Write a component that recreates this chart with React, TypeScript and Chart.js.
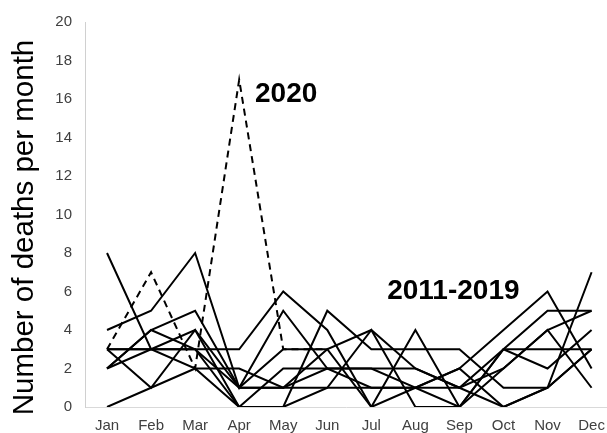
import React, { useEffect, useRef } from "react";
import { Chart, registerables } from "chart.js";

Chart.register(...registerables);

const months = ["Jan", "Feb", "Mar", "Apr", "May", "Jun", "Jul", "Aug", "Sep", "Oct", "Nov", "Dec"];
const yTicks = [0, 2, 4, 6, 8, 10, 12, 14, 16, 18, 20];
const yTitle = "Number of deaths per month";

const deaths2020 = [3, 7, 2, 17, 3, 3, null, null, null, null, null, null];

const seriesA = [8, 3, 2, 2, 1, 1, 4, 0, 0, 3, 5, 5];
const seriesB = [4, 5, 8, 1, 5, 2, 2, 2, 1, 0, 1, 7];
const seriesC = [3, 3, 3, 3, 6, 4, 0, 4, 0, 2, 4, 5];
const seriesD = [3, 1, 4, 0, 0, 5, 3, 3, 3, 1, 1, 3];
const seriesE = [2, 4, 5, 1, 1, 3, 0, 1, 2, 4, 6, 2];
const seriesF = [2, 3, 4, 1, 3, 3, 4, 2, 1, 3, 3, 3];
const seriesG = [0, 1, 2, 0, 2, 2, 1, 1, 1, 2, 4, 1];
const seriesH = [3, 3, 3, 0, 0, 1, 1, 1, 0, 3, 2, 4];
const seriesI = [2, 4, 3, 1, 1, 2, 2, 1, 2, 0, 1, 3];

const pastYears = [seriesA, seriesB, seriesC, seriesD, seriesE, seriesF, seriesG, seriesH, seriesI];

// annotation texts anchored in data coordinates (month index, value)
const labelTexts = ["2020", "2011-2019"];
const labelMonth = [4.36, 7.36];
const labelValue = [15.87, 5.6];

const FONT = '"Liberation Sans", Arial, sans-serif';

const toPoints = (arr: (number | null)[]) => arr.map((v, i) => ({ x: i + 1, y: v }));

export default function App() {
  const ref = useRef<HTMLCanvasElement | null>(null);

  useEffect(() => {
    document.body.style.margin = "0";
    const canvas = ref.current;
    if (!canvas) return;

    const annotate = {
      id: "annotate",
      afterDatasetsDraw(chart: any) {
        const { ctx, scales } = chart;
        ctx.save();
        ctx.fillStyle = "#000";
        ctx.font = `bold 28px ${FONT}`;
        ctx.textAlign = "left";
        ctx.textBaseline = "alphabetic";
        labelTexts.forEach((t, i) => {
          ctx.fillText(t, scales.x.getPixelForValue(labelMonth[i]), scales.y.getPixelForValue(labelValue[i]));
        });
        ctx.restore();
        // y-axis title
        ctx.save();
        ctx.fillStyle = "#000";
        ctx.font = `29.5px ${FONT}`;
        ctx.textAlign = "center";
        ctx.textBaseline = "middle";
        const cy = (scales.y.top + scales.y.bottom) / 2 + 13;
        ctx.translate(25, cy);
        ctx.rotate(-Math.PI / 2);
        ctx.fillText(yTitle, 0, 0);
        ctx.restore();
      },
    };

    const datasets: any[] = pastYears.map((s, i) => ({
      label: String(2011 + i),
      data: toPoints(s),
      borderColor: "#000",
      borderWidth: 2,
      pointRadius: 0,
      tension: 0,
      fill: false,
    }));
    datasets.push({
      label: "2020",
      data: toPoints(deaths2020),
      borderColor: "#000",
      borderWidth: 2,
      borderDash: [7, 5],
      pointRadius: 0,
      tension: 0,
      fill: false,
    });

    const chart = new Chart(canvas, {
      type: "line",
      data: { datasets },
      options: {
        animation: false,
        responsive: false,
        maintainAspectRatio: false,
        layout: { padding: { top: 20, right: 0, bottom: 0, left: 0 } },
        plugins: { legend: { display: false }, tooltip: { enabled: false } },
        scales: {
          x: {
            type: "linear",
            min: 0.5,
            max: 12.35,
            afterBuildTicks: (s: any) => {
              s.ticks = months.map((_, i) => ({ value: i + 1 }));
            },
            afterFit: (s: any) => {
              s.height = 26;
              s.paddingRight = 0;
              s.paddingLeft = 0;
            },
            grid: { display: false, drawTicks: false },
            border: { display: true, color: "#d9d9d9", width: 1 },
            ticks: {
              autoSkip: false,
              maxRotation: 0,
              padding: 10,
              color: "#404040",
              font: { family: FONT, size: 15 },
              callback: (v: any) => months[Math.round(v) - 1] ?? "",
            },
          },
          y: {
            min: 0,
            max: 20,
            afterBuildTicks: (s: any) => {
              s.ticks = yTicks.map((v) => ({ value: v }));
            },
            afterFit: (s: any) => {
              s.width = 85;
            },
            grid: { display: false, drawTicks: false },
            border: { display: true, color: "#d0d0d0", width: 1 },
            ticks: {
              padding: 13,
              color: "#404040",
              font: { family: FONT, size: 15 },
            },
          },
        },
      },
      plugins: [annotate],
    });

    return () => chart.destroy();
  }, []);

  return (
    <div style={{ width: 607, height: 433, position: "relative" }}>
      <canvas ref={ref} width={607} height={433} style={{ display: "block" }} />
    </div>
  );
}
